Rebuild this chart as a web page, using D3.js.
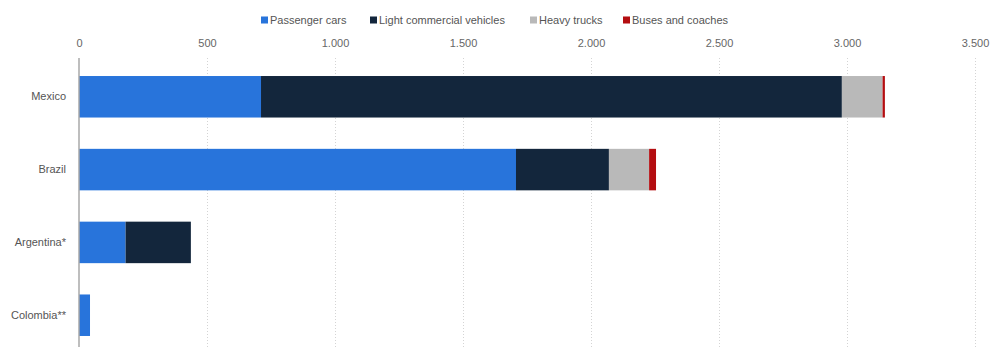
<!DOCTYPE html>
<html>
<head>
<meta charset="utf-8">
<script src="https://cdn.jsdelivr.net/npm/d3@7"></script>
<style>
  body { margin: 0; background: #fff; }
  svg { display: block; font-family: "Liberation Sans", Arial, sans-serif; }
</style>
</head>
<body>
<div id="chart"></div>
<script>
// Données
const countries = ["Mexico", "Brazil", "Argentina*", "Colombia**"];
const seriesNames = ["Passenger cars", "Light commercial vehicles", "Heavy trucks", "Buses and coaches"];
const passengerCars = [711, 1707, 182, 43];
const lightCommercial = [2269, 363, 255, 0];
const heavyTrucks = [159, 157, 0, 0];
const buses = [9, 27, 0, 0];
const xTicks = [0, 500, 1000, 1500, 2000, 2500, 3000, 3500];
const colors = ["#2874db", "#13263c", "#b9b9b9", "#b40d10"];

//---------------------------------------------------------------------------------------

const width = 992;
const height = 347;
const margin = { top: 58, left: 79, right: 17, bottom: 0 };

const rows = countries.map((c, i) => ({
  country: c,
  "Passenger cars": passengerCars[i],
  "Light commercial vehicles": lightCommercial[i],
  "Heavy trucks": heavyTrucks[i],
  "Buses and coaches": buses[i],
}));

const stacked = d3.stack().keys(seriesNames)(rows);

const svg = d3.select("#chart")
  .append("svg")
  .attr("width", width)
  .attr("height", height);

// échelles
const scaleX = d3.scaleLinear()
  .domain([0, 3500])
  .range([margin.left, width - margin.right]);

const scaleY = d3.scaleBand()
  .domain(countries)
  .range([60, 352])
  .paddingInner(0.43)
  .paddingOuter(0.22);

const locale = d3.formatLocale({ decimal: ",", thousands: ".", grouping: [3], currency: ["", ""] });
const fmt = locale.format(",");

// grille pointillée
svg.append("g")
  .selectAll("line")
  .data(xTicks.slice(1))
  .join("line")
  .attr("x1", d => scaleX(d) + 0.5)
  .attr("x2", d => scaleX(d) + 0.5)
  .attr("y1", margin.top)
  .attr("y2", height)
  .attr("stroke", "#d4d4d4")
  .attr("stroke-dasharray", "1,2");

// axe X en haut
const xAxis = g => g
  .attr("transform", `translate(0, ${margin.top - 8})`)
  .call(d3.axisTop(scaleX).tickValues(xTicks).tickFormat(fmt).tickSize(0))
  .call(g => g.select(".domain").remove())
  .call(g => g.selectAll("text")
    .attr("fill", "#666")
    .attr("font-size", "11px"));
svg.append("g").call(xAxis);

// barres
svg.append("g")
  .selectAll("g")
  .data(stacked)
  .join("g")
  .attr("fill", (d, i) => colors[i])
  .selectAll("rect")
  .data(d => d)
  .join("rect")
  .attr("x", d => scaleX(d[0]))
  .attr("y", d => scaleY(d.data.country))
  .attr("width", d => scaleX(d[1]) - scaleX(d[0]))
  .attr("height", scaleY.bandwidth());

// ligne de base
svg.append("line")
  .attr("x1", scaleX(0))
  .attr("x2", scaleX(0))
  .attr("y1", margin.top)
  .attr("y2", height)
  .attr("stroke", "#a8a8a8")
  .attr("stroke-width", 1.5);

// axe Y
const yAxis = g => g
  .attr("transform", `translate(${margin.left - 10}, 0)`)
  .call(d3.axisLeft(scaleY).tickSize(0))
  .call(g => g.select(".domain").remove())
  .call(g => g.selectAll("text")
    .attr("fill", "#555")
    .attr("font-size", "11px"));
svg.append("g").call(yAxis);

// légende
const legendX = [261, 370, 530, 623];
const legend = svg.append("g")
  .selectAll("g")
  .data(seriesNames)
  .join("g")
  .attr("transform", (d, i) => `translate(${legendX[i]}, 20)`);

legend.append("rect")
  .attr("x", 0)
  .attr("y", -3.5)
  .attr("width", 7)
  .attr("height", 7)
  .attr("fill", (d, i) => colors[i]);

legend.append("text")
  .attr("x", 9)
  .attr("dy", "0.35em")
  .attr("font-size", "11px")
  .attr("fill", "#555")
  .text(d => d);
</script>
</body>
</html>
